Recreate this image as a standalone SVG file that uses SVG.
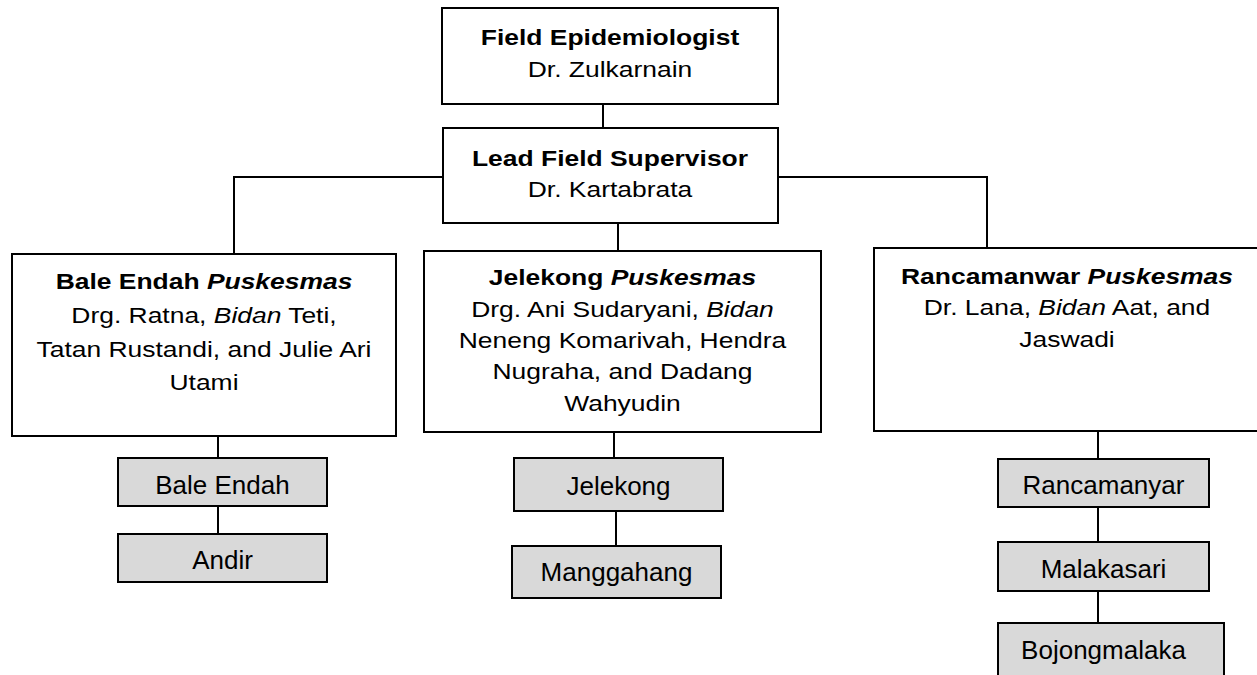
<svg xmlns="http://www.w3.org/2000/svg" width="1257" height="675" viewBox="0 0 1257 675">
<style>
.box{fill:#fff;stroke:#000;stroke-width:2}
.sub{fill:#d9d9d9;stroke:#000;stroke-width:2}
.conn{fill:none;stroke:#000;stroke-width:2}
text{font-family:"Liberation Sans",Arial,sans-serif;fill:#000;text-anchor:middle}
.t{font-size:22.6px}
.b{font-weight:bold}
.i{font-style:italic}
.s{font-size:26px}
</style>
<rect width="1257" height="675" fill="#fff"/>
<g id="connectors">
<path class="conn" d="M603 104V128"/>
<path class="conn" d="M443 177H234V254"/>
<path class="conn" d="M778 177H987V248"/>
<path class="conn" d="M618 223V251"/>
<path class="conn" d="M218 436V458M218 506V534"/>
<path class="conn" d="M614 432V458M616 511V546"/>
<path class="conn" d="M1098 431V459M1098 507V542M1098 591V623"/>
</g>
<g id="field-epidemiologist">
<rect class="box" x="442" y="8" width="336" height="96"/>
<g transform="translate(610,0) scale(1.17,1)">
<text class="t b" x="0" y="45">Field Epidemiologist</text>
<text class="t" x="0" y="77">Dr. Zulkarnain</text>
</g>
</g>
<g id="lead-field-supervisor">
<rect class="box" x="443" y="128" width="335" height="95"/>
<g transform="translate(610,0) scale(1.17,1)">
<text class="t b" x="0" y="166">Lead Field Supervisor</text>
<text class="t" x="0" y="197">Dr. Kartabrata</text>
</g>
</g>
<g id="bale-endah-puskesmas">
<rect class="box" x="12" y="254" width="384" height="182"/>
<g transform="translate(204,0) scale(1.17,1)">
<text class="t b" x="0" y="289">Bale Endah <tspan class="i">Puskesmas</tspan></text>
<text class="t" x="0" y="323">Drg. Ratna, <tspan class="i">Bidan</tspan> Teti,</text>
<text class="t" x="0" y="357">Tatan Rustandi, and Julie Ari</text>
<text class="t" x="0" y="390">Utami</text>
</g>
</g>
<g id="jelekong-puskesmas">
<rect class="box" x="424" y="251" width="397" height="181"/>
<g transform="translate(622.5,0) scale(1.17,1)">
<text class="t b" x="0" y="285">Jelekong <tspan class="i">Puskesmas</tspan></text>
<text class="t" x="0" y="317">Drg. Ani Sudaryani, <tspan class="i">Bidan</tspan></text>
<text class="t" x="0" y="348">Neneng Komarivah, Hendra</text>
<text class="t" x="0" y="379.5">Nugraha, and Dadang</text>
<text class="t" x="0" y="411">Wahyudin</text>
</g>
</g>
<g id="rancamanwar-puskesmas">
<rect class="box" x="874" y="248" width="388" height="183"/>
<g transform="translate(1067,0) scale(1.17,1)">
<text class="t b" x="0" y="284">Rancamanwar <tspan class="i">Puskesmas</tspan></text>
<text class="t" x="0" y="315">Dr. Lana, <tspan class="i">Bidan</tspan> Aat, and</text>
<text class="t" x="0" y="347">Jaswadi</text>
</g>
</g>
<g id="bale-endah">
<rect class="sub" x="118" y="458" width="209" height="48"/>
<text class="s" x="222.5" y="494">Bale Endah</text>
</g>
<g id="andir">
<rect class="sub" x="118" y="534" width="209" height="48"/>
<text class="s" x="222.5" y="569">Andir</text>
</g>
<g id="jelekong">
<rect class="sub" x="514" y="458" width="209" height="53"/>
<text class="s" x="618.5" y="495">Jelekong</text>
</g>
<g id="manggahang">
<rect class="sub" x="512" y="546" width="209" height="52"/>
<text class="s" x="616.5" y="581">Manggahang</text>
</g>
<g id="rancamanyar">
<rect class="sub" x="998" y="459" width="211" height="48"/>
<text class="s" x="1103.5" y="494">Rancamanyar</text>
</g>
<g id="malakasari">
<rect class="sub" x="998" y="542" width="211" height="49"/>
<text class="s" x="1103.5" y="578">Malakasari</text>
</g>
<g id="bojongmalaka">
<rect class="sub" x="998" y="623" width="226" height="60"/>
<text class="s" x="1103.5" y="659">Bojongmalaka</text>
</g>
</svg>
